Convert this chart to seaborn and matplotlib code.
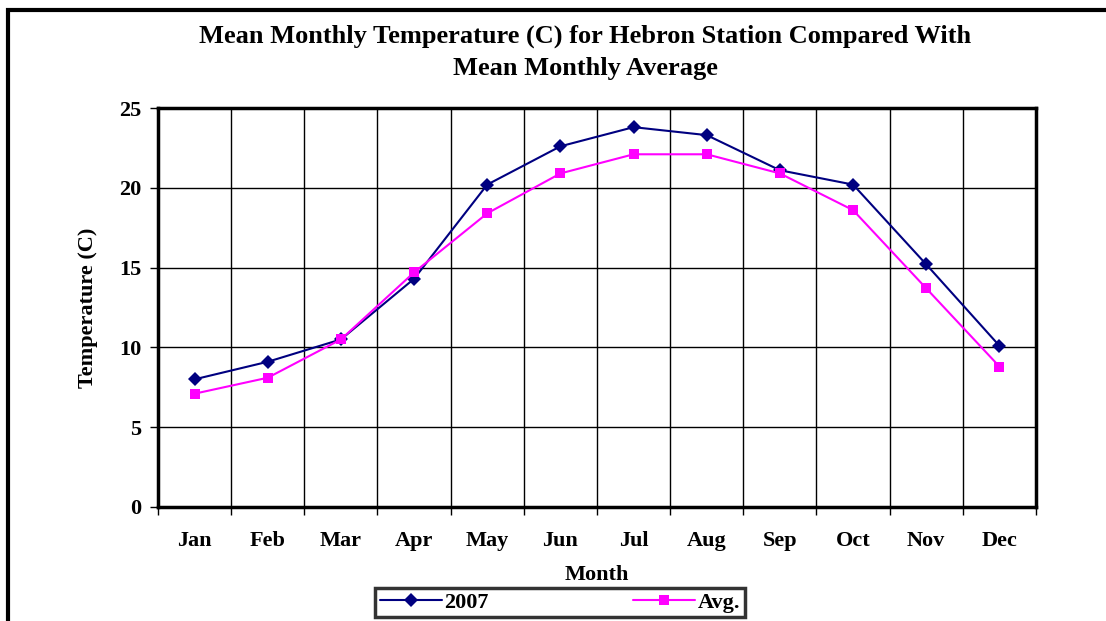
import numpy as np
import pandas as pd
import matplotlib
matplotlib.use("Agg")
import matplotlib.pyplot as plt
from matplotlib.patches import Rectangle
import seaborn as sns

months = ['Jan', 'Feb', 'Mar', 'Apr', 'May', 'Jun',
          'Jul', 'Aug', 'Sep', 'Oct', 'Nov', 'Dec']
temp_2007 = [8.0, 9.1, 10.5, 14.3, 20.2, 22.6, 23.8, 23.3, 21.1, 20.2, 15.2, 10.1]
temp_avg = [7.1, 8.1, 10.5, 14.7, 18.4, 20.9, 22.1, 22.1, 20.9, 18.6, 13.7, 8.8]
series_names = ['2007', 'Avg.']
y_ticks = [0, 5, 10, 15, 20, 25]

df = pd.DataFrame({
    'Month': months * 2,
    'Temp': temp_2007 + temp_avg,
    'Series': [series_names[0]] * 12 + [series_names[1]] * 12,
})

sns.set_style('white')
plt.rcParams['font.family'] = ['Liberation Serif', 'DejaVu Serif']
plt.rcParams['font.weight'] = 'bold'
plt.rcParams['text.color'] = 'black'
plt.rcParams['axes.labelcolor'] = 'black'
plt.rcParams['xtick.color'] = 'black'
plt.rcParams['ytick.color'] = 'black'

fig = plt.figure(figsize=(11.06, 6.21), dpi=100)
ax = fig.add_axes([158 / 1106, 1 - 507 / 621, (1036 - 158) / 1106, (507 - 108) / 621])

sns.lineplot(data=df, x='Month', y='Temp', hue='Series', style='Series',
             palette={'2007': '#000080', 'Avg.': '#FF00FF'},
             markers={'2007': 'D', 'Avg.': 's'}, dashes=False,
             markersize=7, linewidth=1.5, markeredgewidth=0, ax=ax)

ax.set_xlim(-0.5, 11.5)
ax.set_ylim(0, 25)
ax.set_yticks(y_ticks)
ax.set_yticklabels([str(t) for t in y_ticks], fontsize=16, fontweight='bold')

# boundaries get ticks and gridlines, month labels sit in between
ax.set_xticks(np.arange(-0.5, 12, 1))
ax.set_xticklabels([])
ax.set_xticks(np.arange(12), minor=True)
ax.set_xticklabels(months, minor=True, fontsize=16, fontweight='bold')
ax.tick_params(axis='x', which='minor', bottom=True, length=0, pad=17)
ax.tick_params(axis='x', which='major', bottom=True, length=6, width=1, direction='out')
ax.tick_params(axis='y', left=True, length=6, width=1, direction='out', pad=6)

ax.grid(True, which='major', color='black', linewidth=1)
for s in ax.spines.values():
    s.set_visible(True)
    s.set_color('black')
    s.set_linewidth(2.5)

ax.set_xlabel('Month', fontsize=16, fontweight='bold', labelpad=10)
ax.set_ylabel('Temperature (C)', fontsize=16, fontweight='bold', labelpad=15)

fig.text(585 / 1106, 1 - 36 / 621, 'Mean Monthly Temperature (C) for Hebron Station Compared With',
         ha='center', va='center', fontsize=19, fontweight='bold')
fig.text(585 / 1106, 1 - 69 / 621, 'Mean Monthly Average',
         ha='center', va='center', fontsize=19, fontweight='bold')

ax.get_legend().remove()
handles, labels = ax.get_legend_handles_labels()
leg = fig.legend(handles, labels, loc='upper center', ncol=2,
                 bbox_to_anchor=(560 / 1106, 1 - 588 / 621), borderaxespad=0,
                 prop={'size': 16, 'weight': 'bold'}, frameon=True, fancybox=False,
                 borderpad=0.2, columnspacing=6.5, handlelength=2.8, handletextpad=0.1)
leg.get_frame().set_edgecolor('black')
leg.get_frame().set_linewidth(2.5)

# outer chart border (only left and top are visible in the crop)
fig.patches.append(Rectangle((8 / 1106, -0.2), 1.3, 1.2 - 10 / 621, transform=fig.transFigure,
                             fill=False, edgecolor='black', linewidth=3, zorder=0))

fig.savefig('out.png', dpi=100)
